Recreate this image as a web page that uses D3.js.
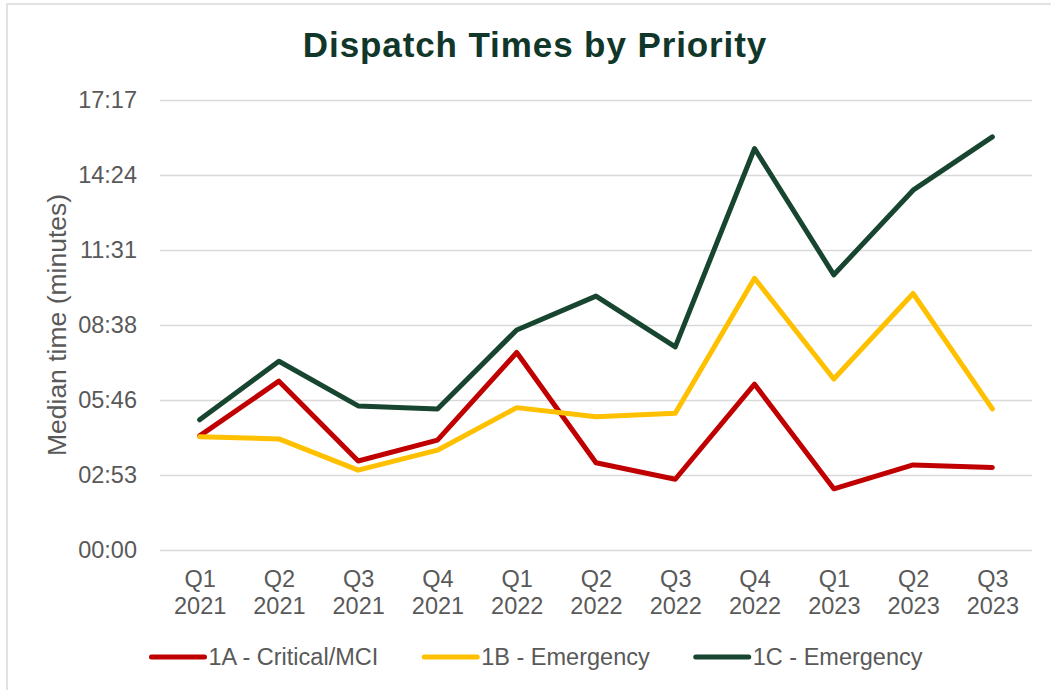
<!DOCTYPE html>
<html>
<head>
<meta charset="utf-8">
<script src="https://cdn.jsdelivr.net/npm/d3@7"></script>
<style>
  html, body { margin: 0; padding: 0; background: #fff; }
  svg { display: block; font-family: "Liberation Sans", Arial, sans-serif; }
</style>
</head>
<body>
<svg id="chart" width="1051" height="690"></svg>
<script>
// Quarter labels (two lines each)
const quarters = ["Q1", "Q2", "Q3", "Q4", "Q1", "Q2", "Q3", "Q4", "Q1", "Q2", "Q3"];
const years    = ["2021", "2021", "2021", "2021", "2022", "2022", "2022", "2022", "2023", "2023", "2023"];

// Median dispatch times, in seconds
const critical1A  = [263, 389, 205, 253, 455, 201, 163, 382, 141, 196, 190];
const emergency1B = [261, 256, 184, 230, 328, 307, 315, 626, 394, 591, 325];
const emergency1C = [300, 435, 332, 325, 507, 585, 468, 925, 634, 829, 952];

const seriesNames  = ["1A - Critical/MCI", "1B - Emergency", "1C - Emergency"];
const seriesColors = ["#C00000", "#FFC000", "#17452F"];

// Axis ticks: 0.002-day steps, shown as mm:ss
const yTicks = [0, 172.8, 345.6, 518.4, 691.2, 864, 1036.8];

const svg = d3.select("#chart");
const plot = { left: 160, right: 1032, top: 100, bottom: 550 };

// Chart frame
svg.append("rect")
  .attr("x", 7).attr("y", 4)
  .attr("width", 1060).attr("height", 710)
  .attr("fill", "#fff")
  .attr("stroke", "#d9d9d9").attr("stroke-width", 1.5);

// Title
svg.append("text")
  .attr("x", 535).attr("y", 57)
  .attr("text-anchor", "middle")
  .attr("font-size", 35).attr("font-weight", "bold")
  .attr("letter-spacing", 0.9)
  .attr("fill", "#10372A")
  .text("Dispatch Times by Priority");

const keys = quarters.map((q, i) => q + " " + years[i]);
const x = d3.scalePoint().domain(keys).range([plot.left, plot.right]).padding(0.5);
const y = d3.scaleLinear().domain([0, 1036.8]).range([plot.bottom, plot.top]);

const fmt = s => {
  const t = Math.round(s);
  const m = Math.floor(t / 60), sec = t % 60;
  return String(m).padStart(2, "0") + ":" + String(sec).padStart(2, "0");
};

// Y axis with gridlines
const yAxis = svg.append("g")
  .attr("transform", `translate(${plot.left},0)`)
  .call(d3.axisLeft(y).tickValues(yTicks).tickFormat(fmt)
    .tickSize(-(plot.right - plot.left)).tickPadding(23));
yAxis.select(".domain").remove();
yAxis.selectAll(".tick line").attr("stroke", "#d9d9d9").attr("stroke-width", 1.5);
yAxis.selectAll(".tick text")
  .attr("font-size", 23.5).attr("fill", "#595959")
  .attr("font-family", "Liberation Sans, Arial, sans-serif");

// X axis labels (two lines)
const xAxis = svg.append("g")
  .attr("transform", `translate(0,${plot.bottom})`)
  .call(d3.axisBottom(x).tickSize(0).tickFormat(""));
xAxis.select(".domain").remove();
xAxis.selectAll(".tick").each(function(d, i) {
  const t = d3.select(this).append("text")
    .attr("text-anchor", "middle")
    .attr("font-size", 23.5).attr("fill", "#595959")
    .attr("font-family", "Liberation Sans, Arial, sans-serif");
  t.append("tspan").attr("x", 0).attr("y", 37).text(quarters[i]);
  t.append("tspan").attr("x", 0).attr("y", 64).text(years[i]);
});

// Y axis title
svg.append("text")
  .attr("transform", "translate(66,325) rotate(-90)")
  .attr("text-anchor", "middle")
  .attr("font-size", 26.5).attr("fill", "#595959")
  .text("Median time (minutes)");

// Series lines
const allSeries = [critical1A, emergency1B, emergency1C];
const line = d3.line().x((d, i) => x(keys[i])).y(d => y(d));
allSeries.forEach((vals, k) => {
  svg.append("path")
    .datum(vals)
    .attr("d", line)
    .attr("fill", "none")
    .attr("stroke", seriesColors[k])
    .attr("stroke-width", 5)
    .attr("stroke-linejoin", "round")
    .attr("stroke-linecap", "round");
});

// Legend
const legend = svg.append("g");
let cx = 0;
seriesNames.forEach((name, k) => {
  const g = legend.append("g");
  g.append("line")
    .attr("x1", 2).attr("x2", 55).attr("y1", 0).attr("y2", 0)
    .attr("stroke", seriesColors[k]).attr("stroke-width", 5)
    .attr("stroke-linecap", "round");
  const t = g.append("text")
    .attr("x", 59).attr("y", 8)
    .attr("font-size", 23.5).attr("fill", "#595959")
    .text(name);
  const w = 59 + t.node().getComputedTextLength();
  g.attr("transform", `translate(${cx},0)`);
  cx += w + 44;
});
const legendW = cx - 44;
legend.attr("transform", `translate(${536 - legendW / 2},657)`);
</script>
</body>
</html>
